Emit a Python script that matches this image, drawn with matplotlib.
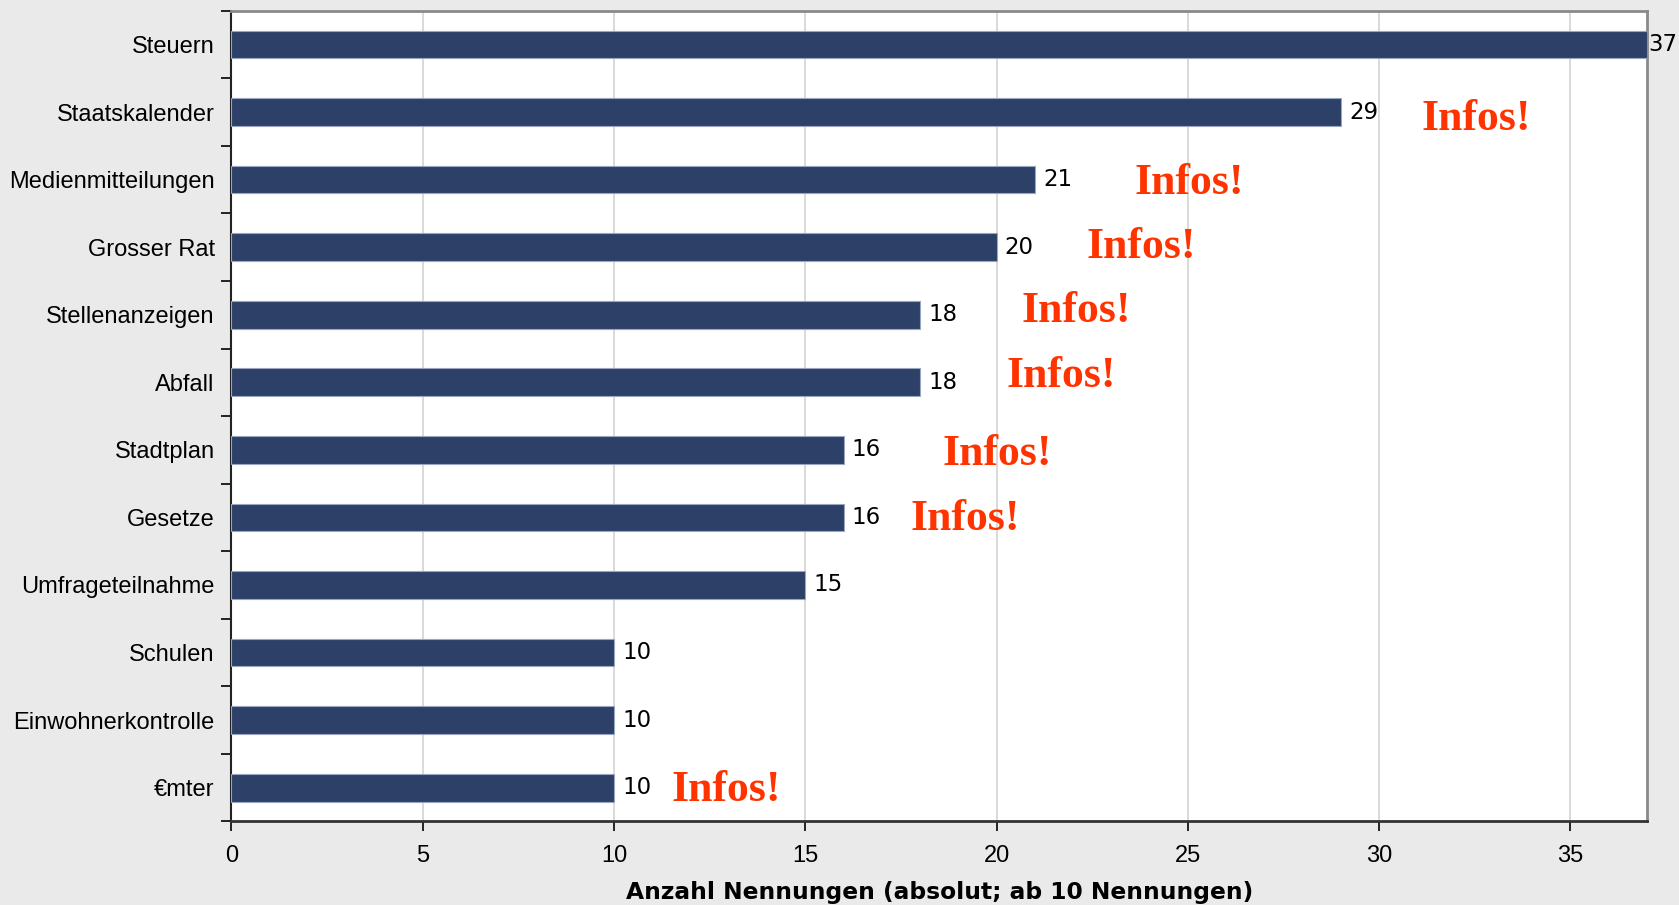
import numpy as np
import matplotlib.pyplot as plt

# Daten
categories = ["Steuern", "Staatskalender", "Medienmitteilungen", "Grosser Rat",
              "Stellenanzeigen", "Abfall", "Stadtplan", "Gesetze",
              "Umfrageteilnahme", "Schulen", "Einwohnerkontrolle", "€mter"]
values = [37, 29, 21, 20, 18, 18, 16, 16, 15, 10, 10, 10]

# "Infos!"-Markierungen: Kategorie-Index, x-Position, y-Versatz
infos_idx = [1, 2, 3, 4, 5, 6, 7, 11]
infos_x = [31.1, 23.6, 22.35, 20.65, 20.25, 18.6, 17.75, 11.5]
infos_dy = [0.1, 0.05, 0.0, -0.05, -0.1, 0.06, 0.02, 0.03]

xmax = 37

fig = plt.figure(figsize=(16.79, 9.05), dpi=100, facecolor="#EAEAEA")
ax = fig.add_axes([0.1378, 0.0923, 0.8431, 0.8959])
ax.set_facecolor("white")

y = np.arange(len(categories))
ax.barh(y, values, height=0.41, color="#2D4068", edgecolor="#9AA6C0",
        linewidth=0.8, zorder=3)

ax.set_xlim(0, xmax)
ax.set_ylim(len(categories) - 0.5, -0.5)

# Werte an den Balken (am Rand enger, damit nichts abgeschnitten wird)
for yi, v in zip(y, values):
    off = 1 if v >= xmax else 6
    ax.annotate(str(v), (v, yi), xytext=(off, 0), textcoords="offset points",
                va="center", ha="left", fontsize=16.5, family="DejaVu Sans",
                color="black", zorder=4, annotation_clip=False)

# Infos!
for i, xi, dy in zip(infos_idx, infos_x, infos_dy):
    ax.text(xi, i + dy, "Infos!", color="#FF3300", fontsize=31.5,
            fontweight="bold", family="Liberation Serif", va="center",
            ha="left", zorder=5)

# Achsen
ax.set_xticks(np.arange(0, 36, 5))
ax.tick_params(axis="x", direction="out", length=7, width=1.2,
               labelsize=17, pad=10, colors="black")
for lab in ax.get_xticklabels():
    lab.set_family("Liberation Sans")
ax.set_yticks(y)
ax.set_yticklabels(categories, fontsize=17, family="Liberation Sans")
ax.set_yticks(np.arange(-0.5, len(categories), 1), minor=True)
ax.tick_params(axis="y", which="major", length=0, pad=12)
ax.tick_params(axis="y", which="minor", direction="out", length=7, width=1.2)

ax.grid(axis="x", color="#D3D3D3", linewidth=1.2, zorder=0)

ax.spines["top"].set_color("#8A8A8A")
ax.spines["right"].set_color("#8A8A8A")
ax.spines["top"].set_linewidth(2)
ax.spines["right"].set_linewidth(2)
ax.spines["left"].set_color("#222222")
ax.spines["bottom"].set_color("#333333")
ax.spines["left"].set_linewidth(1.5)
ax.spines["bottom"].set_linewidth(2)

ax.set_xlabel("Anzahl Nennungen (absolut; ab 10 Nennungen)", fontsize=16.8,
              fontweight="bold", family="DejaVu Sans", labelpad=10)

fig.savefig("out.png", dpi=100, facecolor=fig.get_facecolor())
